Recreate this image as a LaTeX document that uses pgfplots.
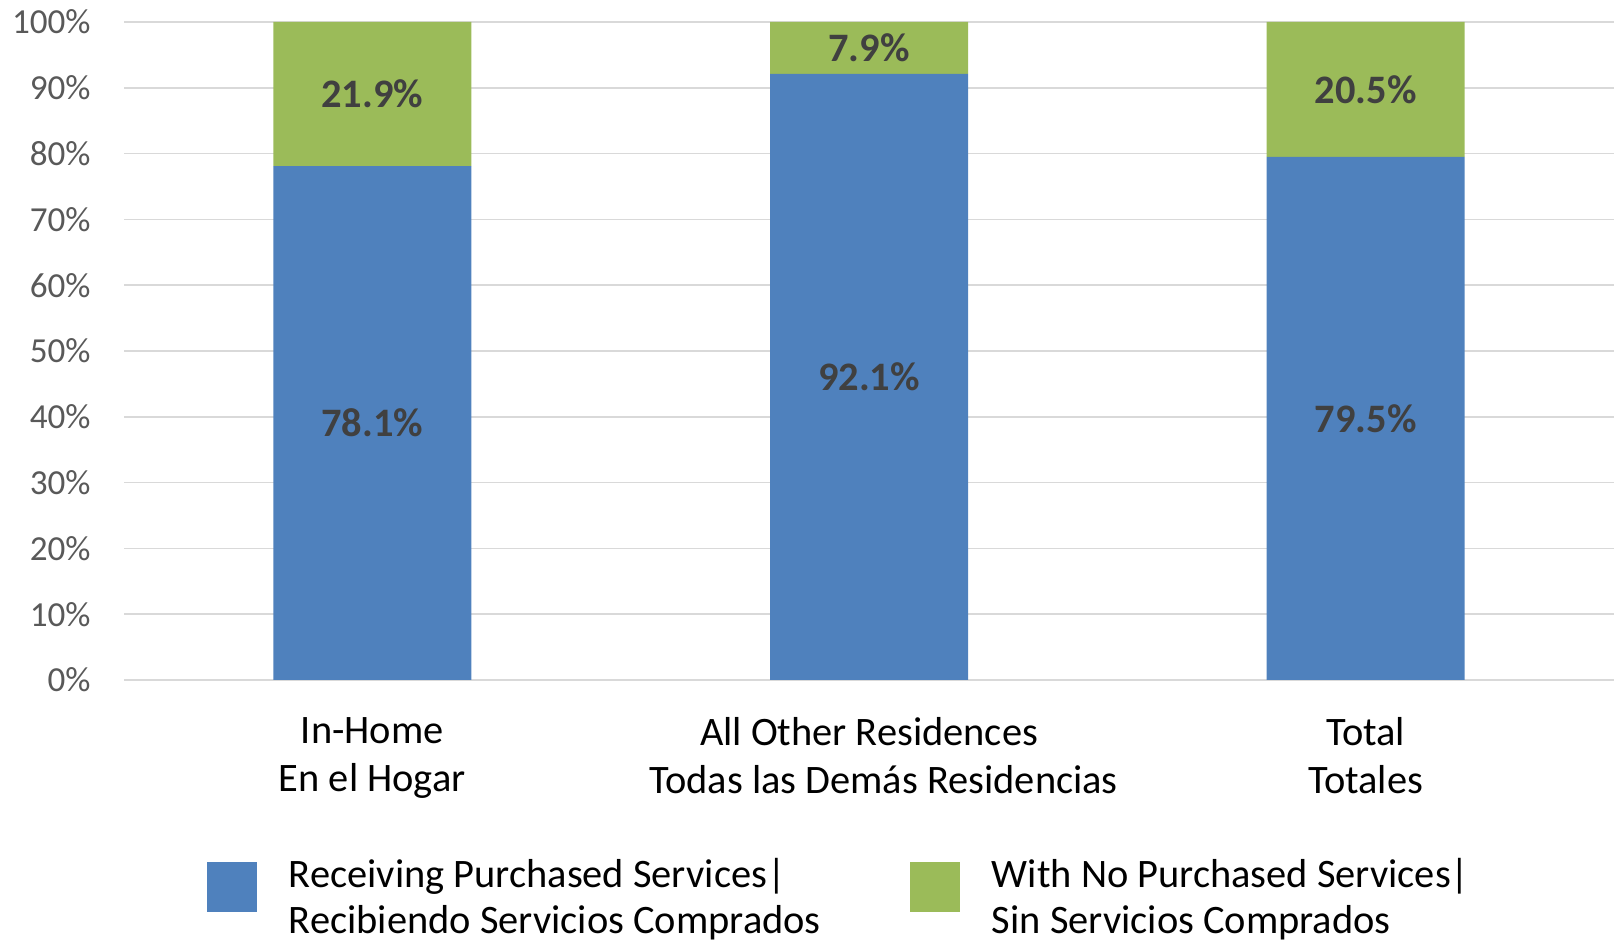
\documentclass[border=0pt]{standalone}
\usepackage{pgfplots}
\pgfplotsset{compat=1.18}
\usepackage{fontspec}
\setmainfont{Carlito}
\definecolor{recv}{HTML}{4F81BD}
\definecolor{nopur}{HTML}{9BBB59}
\definecolor{gridc}{HTML}{D9D9D9}
\definecolor{ticktxt}{HTML}{595959}
\definecolor{lbltxt}{HTML}{404040}
\begin{document}
\begin{tikzpicture}
\begin{axis}[
  scale only axis, width=149mm, height=65.8mm,
  ybar stacked, bar width=19.8mm,
  xmin=-0.5, xmax=2.5, ymin=0, ymax=100,
  xtick={0,1,2},
  xticklabels={In-Home\\En el Hogar, All Other Residences\\\hspace*{2.9mm}Todas las Demás Residencias, Total\\Totales},
  xticklabel style={align=center, font=\fontsize{11.5}{13.5}\selectfont, text=black, yshift=-2.55mm},
  ytick={0,10,...,100},
  yticklabel={\pgfmathprintnumber{\tick}\%},
  yticklabel style={font=\fontsize{10}{12}\selectfont, text=ticktxt, xshift=-2.1mm},
  /pgf/number format/assume math mode=true,
  ymajorgrids, grid style={gridc, line width=0.5pt},
  axis line style={draw=none}, major tick length=0pt,
  point meta=explicit,
  nodes near coords={\pgfmathprintnumber[fixed,fixed zerofill,precision=1]{\pgfplotspointmeta}\%},
  nodes near coords style={font=\bfseries\fontsize{11.5}{13}\selectfont, text=lbltxt},
  legend columns=2,
  legend style={at={(axis description cs:0.0557,-0.3318)}, anchor=west, draw=none,
    inner sep=0pt, outer sep=0pt, row sep=0pt,
    nodes={inner sep=0pt, align=left, font=\fontsize{11.5}{13.1}\selectfont},
    /tikz/every even column/.append style={column sep=8.9mm}},
  legend image code/.code={\fill[#1] (0mm,-1.37mm) rectangle (5mm,3.63mm); \path (8.2mm,0);},
]
\addplot[fill=recv, draw=none] coordinates {(0,78.1) [78.1] (1,92.1) [92.1] (2,79.5) [79.5]};
\addlegendentry{Receiving Purchased Services|\\Recibiendo Servicios Comprados}
\addplot[fill=nopur, draw=none] coordinates {(0,21.9) [21.9] (1,7.9) [7.9] (2,20.5) [20.5]};
\addlegendentry{With No Purchased Services|\\Sin Servicios Comprados}
\end{axis}
\pgfresetboundingbox
\path[use as bounding box] (-12.4mm,-26.2mm) rectangle (149.6mm,68mm);
\end{tikzpicture}
\end{document}
